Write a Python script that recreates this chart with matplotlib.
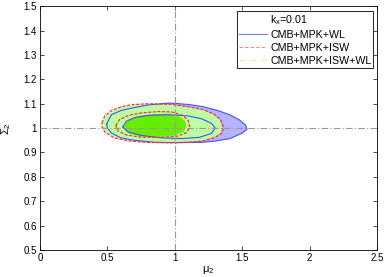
import matplotlib
matplotlib.use('Agg')
import matplotlib.pyplot as plt
from matplotlib.lines import Line2D

plt.rcParams['font.family'] = ['Liberation Sans', 'DejaVu Sans']
plt.rcParams['mathtext.fontset'] = 'custom'
plt.rcParams['mathtext.rm'] = 'Liberation Sans'
plt.rcParams['mathtext.it'] = 'Liberation Sans'

# contour outlines (mu_2, Sigma_2)
wl95_mu = [0.495, 0.53, 0.60, 0.68, 0.80, 0.96, 1.10, 1.21, 1.32, 1.41, 1.48, 1.525,
           1.535, 1.50, 1.41, 1.30, 1.21, 1.00, 0.85, 0.70, 0.60, 0.53, 0.50]
wl95_sig = [1.018, 1.055, 1.072, 1.082, 1.095, 1.103, 1.097, 1.088, 1.072, 1.054, 1.033, 1.012,
            0.995, 0.980, 0.957, 0.947, 0.942, 0.940, 0.942, 0.950, 0.960, 0.980, 1.000]

wl68_mu = [0.615, 0.64, 0.70, 0.80, 0.95, 1.10, 1.20, 1.27, 1.30, 1.27, 1.18, 1.05, 0.90, 0.75, 0.65]
wl68_sig = [1.005, 1.028, 1.043, 1.052, 1.055, 1.050, 1.038, 1.020, 1.000, 0.978, 0.962, 0.957,
            0.960, 0.970, 0.985]

isw95_mu = [0.46, 0.48, 0.53, 0.60, 0.68, 0.80, 0.96, 1.10, 1.21, 1.29, 1.34, 1.36, 1.35, 1.30,
            1.21, 1.10, 0.96, 0.80, 0.65, 0.55, 0.48, 0.46]
isw95_sig = [1.022, 1.050, 1.072, 1.087, 1.096, 1.100, 1.098, 1.088, 1.076, 1.058, 1.035, 1.005,
             0.980, 0.962, 0.947, 0.942, 0.940, 0.941, 0.948, 0.960, 0.985, 1.005]

isw68_mu = [0.562, 0.59, 0.66, 0.75, 0.88, 0.98, 1.06, 1.10, 1.11, 1.09, 1.02, 0.90, 0.75, 0.64, 0.58]
isw68_sig = [1.010, 1.035, 1.053, 1.062, 1.068, 1.066, 1.052, 1.030, 1.005, 0.982, 0.967, 0.962,
             0.963, 0.972, 0.988]

all95_mu = [0.465, 0.485, 0.535, 0.60, 0.68, 0.80, 0.96, 1.10, 1.21, 1.285, 1.33, 1.35, 1.34, 1.29,
            1.21, 1.10, 0.96, 0.80, 0.65, 0.55, 0.485, 0.465]
all95_sig = [1.022, 1.049, 1.070, 1.085, 1.094, 1.098, 1.096, 1.086, 1.074, 1.056, 1.034, 1.005,
             0.981, 0.963, 0.949, 0.944, 0.942, 0.943, 0.950, 0.962, 0.986, 1.005]

all68_mu = [0.625, 0.66, 0.73, 0.85, 0.96, 1.04, 1.08, 1.085, 1.065, 1.00, 0.88, 0.75, 0.66, 0.63]
all68_sig = [1.012, 1.035, 1.050, 1.058, 1.058, 1.046, 1.025, 1.005, 0.985, 0.970, 0.964, 0.966,
             0.978, 0.995]

legend_title = r'k$_x$=0.01'
labels = ['CMB+MPK+WL', 'CMB+MPK+ISW', 'CMB+MPK+ISW+WL']
x_ticks = [0, 0.5, 1, 1.5, 2, 2.5]
y_ticks = [0.5, 0.6, 0.7, 0.8, 0.9, 1, 1.1, 1.2, 1.3, 1.4, 1.5]


def closed(a):
    return list(a) + [a[0]]


fig = plt.figure(figsize=(3.88, 2.77), dpi=100)
ax = fig.add_axes([0.103, 0.0975, 0.869, 0.880])

blue = '#4a4aff'
red = '#ff3030'

ax.fill(wl95_mu, wl95_sig, color='#b4b4ff', lw=0, zorder=1)
ax.fill(all95_mu, all95_sig, color='#bbff9e', lw=0, zorder=3)
ax.fill(all68_mu, all68_sig, color='#66ee00', lw=0, zorder=4)
ax.plot(closed(wl95_mu), closed(wl95_sig), color=blue, lw=0.8, zorder=5)
ax.plot(closed(wl68_mu), closed(wl68_sig), color=blue, lw=0.8, zorder=5)
ax.plot(closed(isw95_mu), closed(isw95_sig), color=red, lw=0.9, ls=(0, (2.5, 1.2)), zorder=6)
ax.plot(closed(isw68_mu), closed(isw68_sig), color=red, lw=0.9, ls=(0, (2.5, 1.2)), zorder=6)

ax.axvline(1, color='#999999', lw=0.8, ls=(0, (6, 2, 1, 2)), zorder=7)
ax.axhline(1, color='#999999', lw=0.8, ls=(0, (6, 2, 1, 2)), zorder=7)

ax.set_xlim(0, 2.5)
ax.set_ylim(0.5, 1.5)
ax.set_xticks(x_ticks)
ax.set_xticklabels(['0', '0.5', '1', '1.5', '2', '2.5'])
ax.set_yticks(y_ticks)
ax.set_yticklabels(['0.5', '0.6', '0.7', '0.8', '0.9', '1', '1.1', '1.2', '1.3', '1.4', '1.5'])
ax.tick_params(direction='in', length=3, width=0.5, labelsize=7, top=True, right=True, pad=2)
for s in ax.spines.values():
    s.set_linewidth(0.6)

ax.set_xlabel(r'$\mu_2$', fontsize=8, labelpad=1)
ax.set_ylabel(r'$\Sigma_2$', fontsize=8, labelpad=8)

handles = [Line2D([], [], color='none', lw=0),
           Line2D([], [], color='#7a7aff', lw=0.8),
           Line2D([], [], color='#ff8080', lw=0.8, ls=(0, (3, 2))),
           Line2D([], [], color='#c8ffb0', lw=0.8, ls=(0, (5, 2, 1, 2)))]
leg = ax.legend(handles, [legend_title] + labels, loc='upper right',
                bbox_to_anchor=(0.989, 0.98), fontsize=7.7,
                fancybox=False, framealpha=1, edgecolor='black', borderpad=0.2,
                handlelength=2.6, handletextpad=0.3, labelspacing=0.28, borderaxespad=0)
leg.get_frame().set_linewidth(0.6)
leg.set_zorder(10)

fig.savefig('out.png', dpi=100)
